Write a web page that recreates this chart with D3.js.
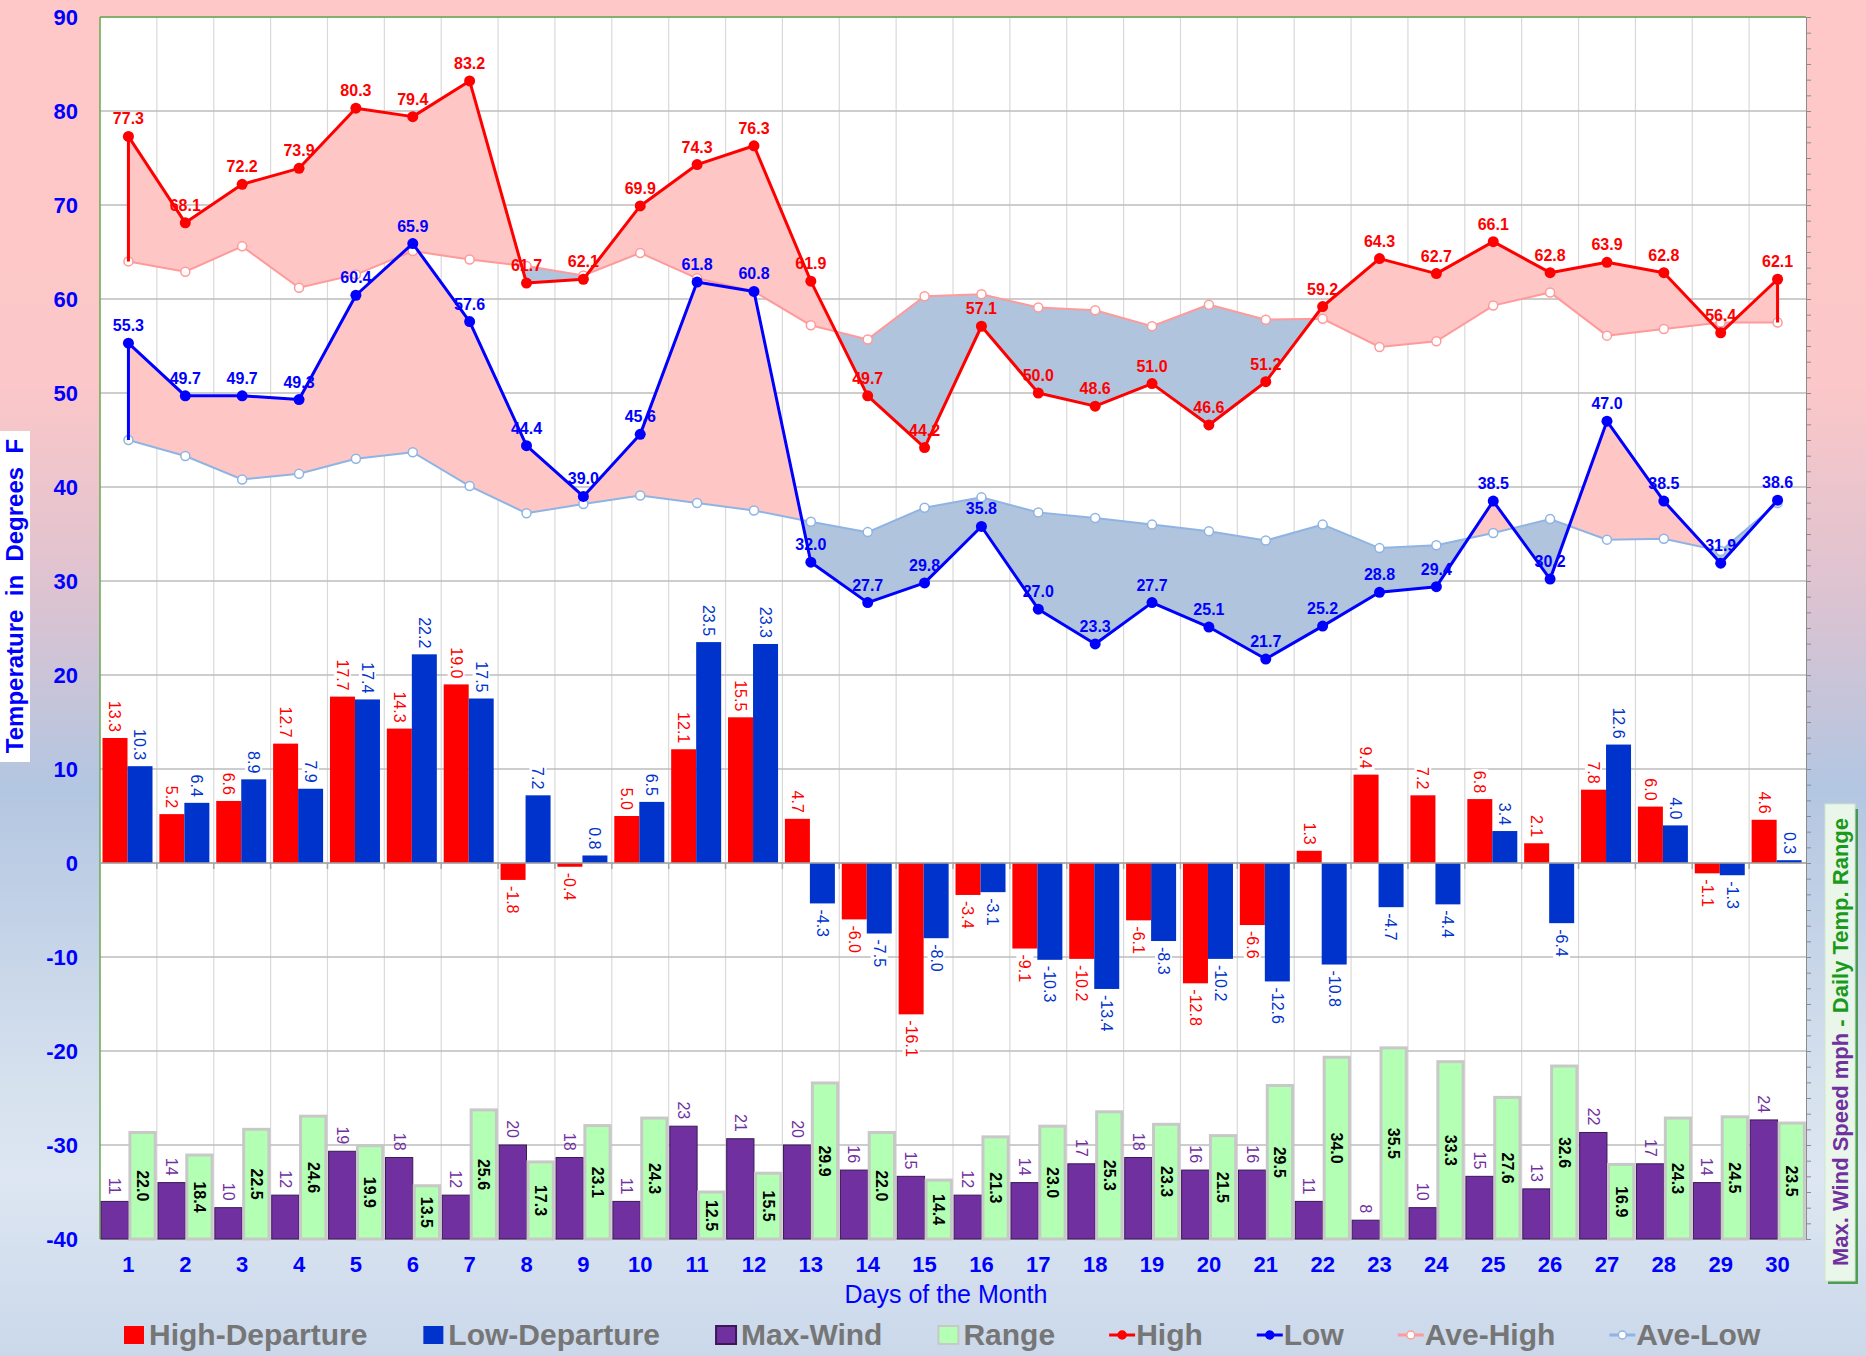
<!DOCTYPE html>
<meta charset="utf-8">
<style>
body { margin: 0; }
text { font-family: "Liberation Sans", Arial, sans-serif; }
</style>
<svg width="1866" height="1356"></svg>
<script src="https://d3js.org/d3.v7.min.js"></script>
<script>

// ---- data ----
var days = [1,2,3,4,5,6,7,8,9,10,11,12,13,14,15,16,17,18,19,20,21,22,23,24,25,26,27,28,29,30];

var high = [77.3,68.1,72.2,73.9,80.3,79.4,83.2,61.7,62.1,69.9,74.3,76.3,61.9,49.7,44.2,
            57.1,50.0,48.6,51.0,46.6,51.2,59.2,64.3,62.7,66.1,62.8,63.9,62.8,56.4,62.1];
var low = [55.3,49.7,49.7,49.3,60.4,65.9,57.6,44.4,39.0,45.6,61.8,60.8,32.0,27.7,29.8,
           35.8,27.0,23.3,27.7,25.1,21.7,25.2,28.8,29.4,38.5,30.2,47.0,38.5,31.9,38.6];
var aveHigh = [64.0,62.9,65.6,61.2,62.6,65.1,64.2,63.5,62.5,64.9,62.2,60.8,57.2,55.7,60.3,
               60.5,59.1,58.8,57.1,59.4,57.8,57.9,54.9,55.5,59.3,60.7,56.1,56.8,57.5,57.5];
var aveLow = [45.0,43.3,40.8,41.4,43.0,43.7,40.1,37.2,38.2,39.1,38.3,37.5,36.3,35.2,37.8,
              38.9,37.3,36.7,36.0,35.3,34.3,36.0,33.5,33.8,35.1,36.6,34.4,34.5,33.2,38.3];
var highDep = [13.3,5.2,6.6,12.7,17.7,14.3,19.0,-1.8,-0.4,5.0,12.1,15.5,4.7,-6.0,-16.1,
               -3.4,-9.1,-10.2,-6.1,-12.8,-6.6,1.3,9.4,7.2,6.8,2.1,7.8,6.0,-1.1,4.6];
var lowDep = [10.3,6.4,8.9,7.9,17.4,22.2,17.5,7.2,0.8,6.5,23.5,23.3,-4.3,-7.5,-8.0,
              -3.1,-10.3,-13.4,-8.3,-10.2,-12.6,-10.8,-4.7,-4.4,3.4,-6.4,12.6,4.0,-1.3,0.3];
var maxWind = [11,14,10,12,19,18,12,20,18,11,23,21,20,16,15,12,14,17,18,16,16,11,8,10,15,13,22,17,14,24];
var tempRange = [22.0,18.4,22.5,24.6,19.9,13.5,25.6,17.3,23.1,24.3,12.5,15.5,29.9,22.0,14.4,
                 21.3,23.0,25.3,23.3,21.5,29.5,34.0,35.5,33.3,27.6,32.6,16.9,24.3,24.5,23.5];

var yTicks = [-40,-30,-20,-10,0,10,20,30,40,50,60,70,80,90];
var legendItems = ["High-Departure","Low-Departure","Max-Wind","Range","High","Low","Ave-High","Ave-Low"];

// ---- setup ----
var svg = d3.select("svg"),
    width = +svg.attr("width"),
    height = +svg.attr("height");

var pLeft = 100, pRight = 1806, pTop = 17, pBottom = 1239;

var x = d3.scaleBand().domain(days).range([pLeft, pRight]);
var bw = x.bandwidth();
var cx = function(d) { return x(d) + bw / 2; };

var y = d3.scaleLinear().domain([-40, 90]).range([pBottom, pTop]);
// secondary axis (wind mph / range)
var y2 = d3.scaleLinear().domain([5, 200]).range([pBottom, pTop]);

var defs = svg.append("defs");
var grad = defs.append("linearGradient").attr("id", "bg")
    .attr("x1", 0).attr("y1", 0).attr("x2", 0).attr("y2", 1);
[[0, "#ffc8c8"], [0.28, "#fcc7c8"], [0.44, "#dcc3d1"], [0.58, "#b3c6e1"],
 [0.8, "#d6e1ee"], [0.87, "#dde6f2"], [1, "#cad8ea"]].forEach(function(s) {
  grad.append("stop").attr("offset", s[0]).attr("stop-color", s[1]);
});

svg.append("rect").attr("width", width).attr("height", height).attr("fill", "url(#bg)");
svg.append("rect").attr("x", pLeft).attr("y", pTop)
    .attr("width", pRight - pLeft).attr("height", pBottom - pTop).attr("fill", "#fff");

// grid
var grid = svg.append("g");
grid.selectAll(".vg").data(days.slice(1))
  .enter().append("line")
    .attr("x1", function(d) { return x(d); }).attr("x2", function(d) { return x(d); })
    .attr("y1", pTop).attr("y2", pBottom)
    .attr("stroke", "#d9d9d9").attr("stroke-width", 1.2);
grid.selectAll(".hg").data(yTicks)
  .enter().append("line")
    .attr("x1", pLeft).attr("x2", pRight)
    .attr("y1", function(d) { return y(d); }).attr("y2", function(d) { return y(d); })
    .attr("stroke", "#bdbdbd").attr("stroke-width", 1.3);

// borders
svg.append("line").attr("x1", pLeft).attr("x2", pRight).attr("y1", pTop).attr("y2", pTop)
    .attr("stroke", "#6aa84f").attr("stroke-width", 1.5);
svg.append("line").attr("x1", pLeft).attr("x2", pLeft).attr("y1", pTop).attr("y2", pBottom)
    .attr("stroke", "#6aa84f").attr("stroke-width", 1.5);

// right axis with ticks, no labels
svg.append("g")
    .attr("transform", "translate(" + pRight + ",0)")
    .call(d3.axisRight(y2).tickValues(d3.range(5, 200.1, 2.5)).tickSize(5).tickFormat(""))
    .call(function(g) { g.selectAll("line, path").attr("stroke", "#8c8c8c"); });

// y labels
svg.append("g").selectAll("text").data(yTicks)
  .enter().append("text")
    .attr("x", 78).attr("y", function(d) { return y(d); })
    .attr("dy", "0.36em")
    .attr("text-anchor", "end")
    .attr("font-size", 22).attr("font-weight", "bold").attr("fill", "#0000ff")
    .text(function(d) { return d; });

// departure bars
var depW = 25, depOff = 2.5;
var bars = svg.append("g");
bars.selectAll(".hd").data(days)
  .enter().append("rect")
    .attr("x", function(d) { return x(d) + depOff; })
    .attr("width", depW)
    .attr("y", function(d, i) { return y(Math.max(0, highDep[i])); })
    .attr("height", function(d, i) { return Math.abs(y(highDep[i]) - y(0)); })
    .attr("fill", "#ff0000");
bars.selectAll(".ld").data(days)
  .enter().append("rect")
    .attr("x", function(d) { return x(d) + depOff + depW; })
    .attr("width", depW)
    .attr("y", function(d, i) { return y(Math.max(0, lowDep[i])); })
    .attr("height", function(d, i) { return Math.abs(y(lowDep[i]) - y(0)); })
    .attr("fill", "#0033cc");

// wind & range bars
var wW = 0.48 * bw, wOff = 0.02 * bw;
bars.selectAll(".wind").data(days)
  .enter().append("rect")
    .attr("x", function(d) { return x(d) + wOff; })
    .attr("width", wW)
    .attr("y", function(d, i) { return y2(maxWind[i]); })
    .attr("height", function(d, i) { return y2(5) - y2(maxWind[i]); })
    .attr("fill", "#7030a0").attr("stroke", "#3a1a55").attr("stroke-width", 1);
bars.selectAll(".rng").data(days)
  .enter().append("rect")
    .attr("x", function(d) { return x(d) + wOff + wW + 1.5; })
    .attr("width", wW - 2)
    .attr("y", function(d, i) { return y2(tempRange[i]); })
    .attr("height", function(d, i) { return y2(5) - y2(tempRange[i]); })
    .attr("fill", "#b3ffb3").attr("stroke", "#c8c8c8").attr("stroke-width", 3);

// zero axis
svg.append("line").attr("x1", pLeft).attr("x2", pRight).attr("y1", y(0)).attr("y2", y(0))
    .attr("stroke", "#a6a6a6").attr("stroke-width", 1.5);
svg.append("g").selectAll("line").data(days.slice(1))
  .enter().append("line")
    .attr("x1", function(d) { return x(d); }).attr("x2", function(d) { return x(d); })
    .attr("y1", y(0)).attr("y2", y(0) + 6)
    .attr("stroke", "#a6a6a6").attr("stroke-width", 1.5);

// fills between actual and average
function fillBand(actual, ave, id) {
  var above = d3.area().x(function(d) { return cx(d); })
      .y0(pTop).y1(function(d, i) { return y(ave[i]); });
  var below = d3.area().x(function(d) { return cx(d); })
      .y0(pBottom).y1(function(d, i) { return y(ave[i]); });
  defs.append("clipPath").attr("id", id + "A").append("path").attr("d", above(days));
  defs.append("clipPath").attr("id", id + "B").append("path").attr("d", below(days));
  var between = d3.area().x(function(d) { return cx(d); })
      .y0(function(d, i) { return y(ave[i]); })
      .y1(function(d, i) { return y(actual[i]); });
  svg.append("path").attr("d", between(days)).attr("fill", "#ffc6c6")
      .attr("clip-path", "url(#" + id + "A)");
  svg.append("path").attr("d", between(days)).attr("fill", "#b0c4de")
      .attr("clip-path", "url(#" + id + "B)");
}
fillBand(high, aveHigh, "hi");
fillBand(low, aveLow, "lo");

// average lines
function aveLine(vals, color) {
  var line = d3.line().x(function(d) { return cx(d); }).y(function(d, i) { return y(vals[i]); });
  svg.append("path").attr("d", line(days)).attr("fill", "none")
      .attr("stroke", color).attr("stroke-width", 2);
  svg.append("g").selectAll("circle").data(days)
    .enter().append("circle")
      .attr("cx", cx).attr("cy", function(d, i) { return y(vals[i]); })
      .attr("r", 4.5).attr("fill", "#fff").attr("stroke", color).attr("stroke-width", 1.5);
}
aveLine(aveHigh, "#ff9a9a");
aveLine(aveLow, "#8fb4e3");

// actual lines, closed down to the average at both ends
function mainLine(vals, ave, color) {
  var n = days.length;
  var pts = [[cx(days[0]), y(ave[0])]]
    .concat(days.map(function(d, i) { return [cx(d), y(vals[i])]; }))
    .concat([[cx(days[n - 1]), y(ave[n - 1])]]);
  svg.append("path").attr("d", d3.line()(pts)).attr("fill", "none")
      .attr("stroke", color).attr("stroke-width", 3).attr("stroke-linejoin", "round");
  svg.append("g").selectAll("circle").data(days)
    .enter().append("circle")
      .attr("cx", cx).attr("cy", function(d, i) { return y(vals[i]); })
      .attr("r", 5.5).attr("fill", color);
  svg.append("g").selectAll("text").data(days)
    .enter().append("text")
      .attr("x", cx).attr("y", function(d, i) { return y(vals[i]) - 12; })
      .attr("text-anchor", "middle")
      .attr("font-size", 16).attr("font-weight", "bold").attr("fill", color)
      .text(function(d, i) { return vals[i].toFixed(1); });
}
mainLine(high, aveHigh, "#ff0000");
mainLine(low, aveLow, "#0000ff");

// rotated bar labels
function rotLabel(xp, yp, str, anchor, color, size, weight, bg) {
  var g = svg.append("g").attr("transform", "translate(" + xp + "," + yp + ") rotate(90)");
  var t = g.append("text")
      .attr("text-anchor", anchor).attr("dy", "0.35em")
      .attr("font-size", size).attr("font-weight", weight).attr("fill", color)
      .text(str);
  if (bg) {
    var b = t.node().getBBox();
    g.insert("rect", "text").attr("x", b.x - 2).attr("y", b.y)
        .attr("width", b.width + 4).attr("height", b.height).attr("fill", "#fff");
  }
}
days.forEach(function(d, i) {
  var hx = x(d) + depOff + depW / 2, lx = x(d) + depOff + depW * 1.5;
  if (highDep[i] >= 0) rotLabel(hx, y(highDep[i]) - 6, highDep[i].toFixed(1), "end", "#ff0000", 16, "normal", true);
  else rotLabel(hx, y(highDep[i]) + 6, highDep[i].toFixed(1), "start", "#ff0000", 16, "normal", true);
  if (lowDep[i] >= 0) rotLabel(lx, y(lowDep[i]) - 6, lowDep[i].toFixed(1), "end", "#0033cc", 16, "normal", true);
  else rotLabel(lx, y(lowDep[i]) + 6, lowDep[i].toFixed(1), "start", "#0033cc", 16, "normal", true);

  rotLabel(x(d) + wOff + wW / 2, y2(maxWind[i]) - 7, maxWind[i], "end", "#7030a0", 16, "normal", false);
  rotLabel(x(d) + wOff + wW * 1.5 + 0.5, (y2(tempRange[i]) + y2(5)) / 2, tempRange[i].toFixed(1), "middle", "#000", 16, "bold", false);
});

// x labels
svg.append("g").selectAll("text").data(days)
  .enter().append("text")
    .attr("x", cx).attr("y", 1272)
    .attr("text-anchor", "middle")
    .attr("font-size", 22).attr("font-weight", "bold").attr("fill", "#0000ff")
    .text(function(d) { return d; });

svg.append("text")
    .attr("x", (pLeft + pRight) / 2 - 7).attr("y", 1303)
    .attr("text-anchor", "middle")
    .attr("font-size", 25).attr("fill", "#0000ff")
    .text("Days of the Month");

// left title
svg.append("rect").attr("x", 0).attr("y", 431).attr("width", 30).attr("height", 331).attr("fill", "#fff");
svg.append("text")
    .attr("transform", "translate(23,596) rotate(-90)")
    .attr("text-anchor", "middle")
    .attr("font-size", 24).attr("font-weight", "bold").attr("fill", "#0000ff")
    .style("white-space", "pre")
    .text("Temperature  in  Degrees  F");

// right title
svg.append("rect").attr("x", 1828).attr("y", 809).attr("width", 30).attr("height", 475)
    .attr("fill", "#2e8b2e").attr("opacity", 0.8);
svg.append("rect").attr("x", 1825).attr("y", 804).attr("width", 30).attr("height", 477)
    .attr("fill", "#eaf6ea").attr("stroke", "#cfe6cf");
var rt = svg.append("text")
    .attr("transform", "translate(1848,1042) rotate(-90)")
    .attr("text-anchor", "middle")
    .attr("font-size", 22).attr("font-weight", "bold");
rt.append("tspan").attr("fill", "#7030a0").text("Max. Wind Speed mph ");
rt.append("tspan").attr("fill", "#1a9a1a").text("- Daily Temp. Range");

// legend
var legendSym = [
  {type: "rect", fill: "#ff0000", stroke: "none"},
  {type: "rect", fill: "#0033cc", stroke: "none"},
  {type: "rect", fill: "#7030a0", stroke: "#3a1a55"},
  {type: "rect", fill: "#b3ffb3", stroke: "#c8c8c8"},
  {type: "line", color: "#ff0000", dot: "#ff0000"},
  {type: "line", color: "#0000ff", dot: "#0000ff"},
  {type: "line", color: "#ff9a9a", dot: "#fff"},
  {type: "line", color: "#8fb4e3", dot: "#fff"}
];
var lx = 122, ly = 1335;
var legend = svg.append("g");
legendItems.forEach(function(name, i) {
  var s = legendSym[i];
  if (s.type === "rect") {
    legend.append("rect").attr("x", lx + 2).attr("y", ly - 9).attr("width", 20).attr("height", 18)
        .attr("fill", s.fill).attr("stroke", s.stroke).attr("stroke-width", 2);
  } else {
    legend.append("line").attr("x1", lx).attr("x2", lx + 26).attr("y1", ly).attr("y2", ly)
        .attr("stroke", s.color).attr("stroke-width", 3);
    legend.append("circle").attr("cx", lx + 13).attr("cy", ly).attr("r", 4)
        .attr("fill", s.dot).attr("stroke", s.color).attr("stroke-width", 1.5);
  }
  var t = legend.append("text").attr("x", lx + 27).attr("y", ly + 10)
      .attr("font-size", 30).attr("font-weight", "bold").attr("fill", "#767676")
      .text(name);
  lx += 27 + t.node().getComputedTextLength() + 54;
});

</script>
